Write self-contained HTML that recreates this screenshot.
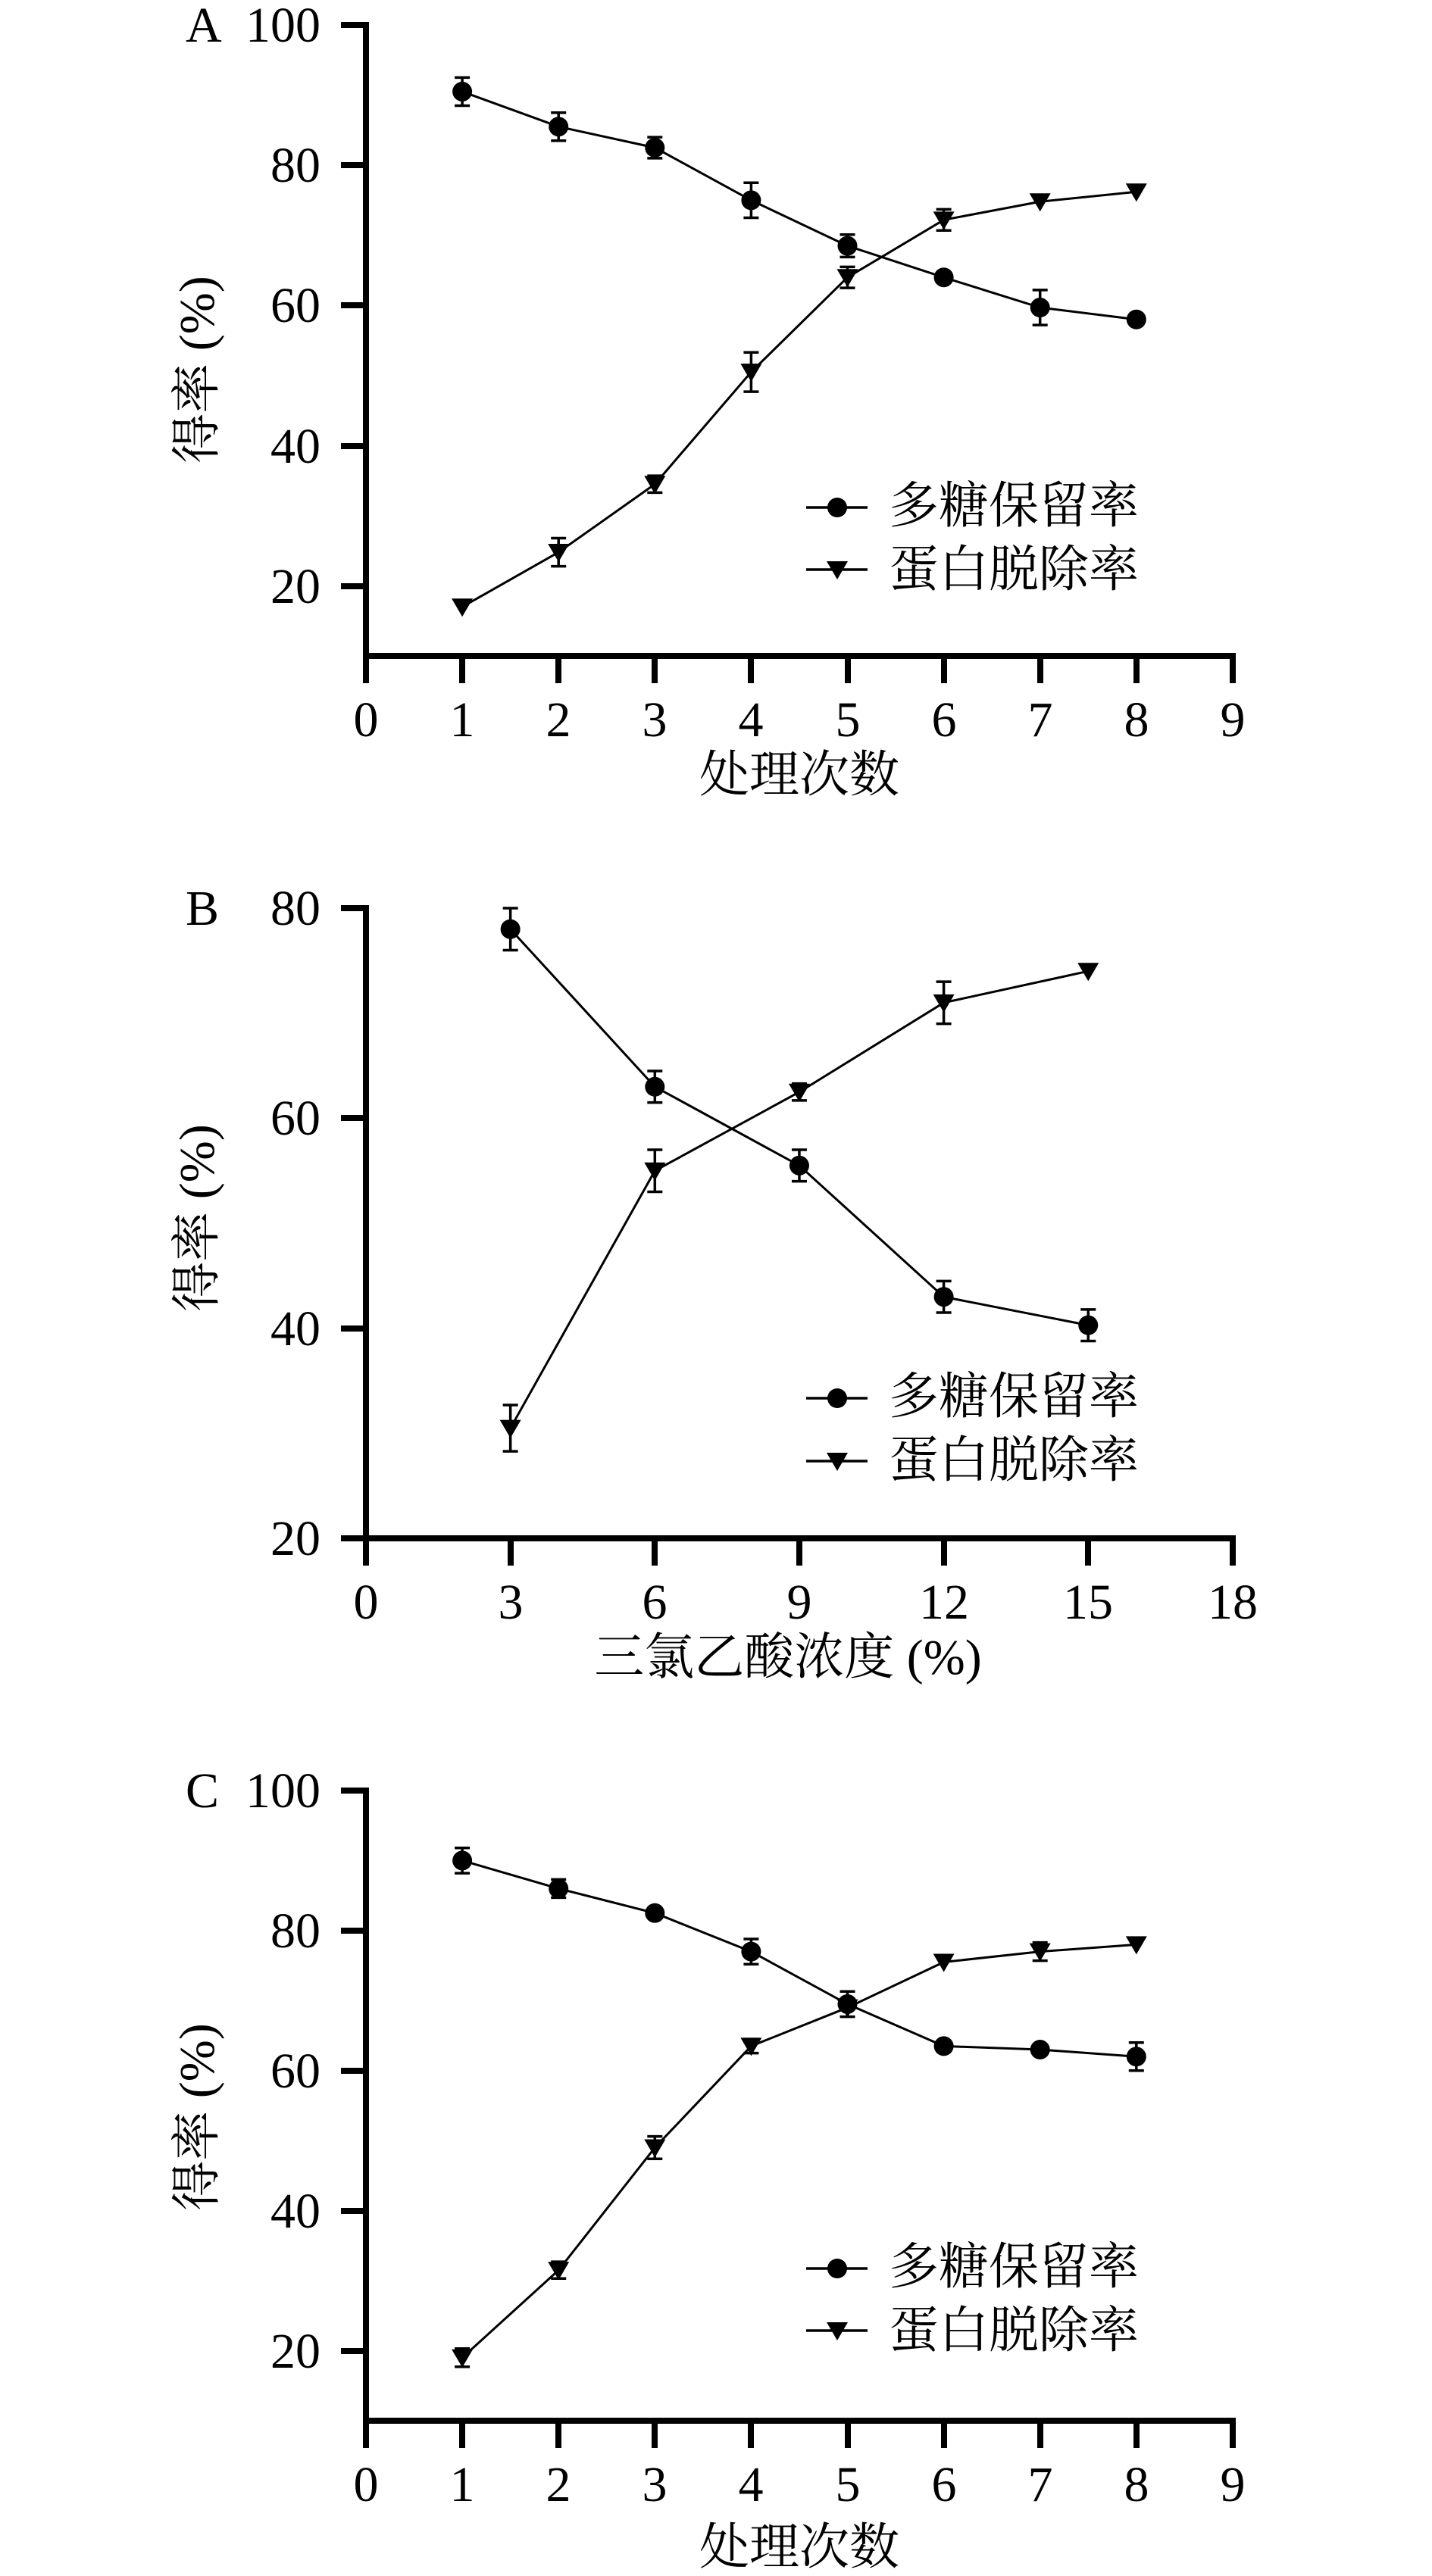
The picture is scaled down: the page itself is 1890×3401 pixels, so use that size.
<!DOCTYPE html>
<html><head><meta charset="utf-8"><style>
html,body{margin:0;padding:0;background:#fff}
svg{display:block}
.t{font-family:"Liberation Serif","Noto Serif CJK SC",serif;font-size:66px;fill:#000}
.c{font-family:"Liberation Serif","Noto Serif CJK SC",serif;font-size:64px;fill:#000}
</style></head><body>
<svg id="s" width="1890" height="3401" viewBox="0 0 1890 3401" xmlns="http://www.w3.org/2000/svg">
<g stroke="#000" stroke-width="8" fill="none">
<!-- A axes -->
<path d="M483 29V870M479 866H1631"/>
<path d="M450 33H483M450 218H483M450 403H483M450 589H483M450 774H483"/>
<path d="M483 866V902M610 866V902M737 866V902M864 866V902M991 866V902M1119 866V902M1246 866V902M1373 866V902M1500 866V902M1627 862V902"/>
<!-- B axes -->
<path d="M483 1195V2035M479 2031H1631"/>
<path d="M450 1199H483M450 1476H483M450 1754H483M450 2031H483"/>
<path d="M483 2031V2067M674 2031V2067M864 2031V2067M1055 2031V2067M1246 2031V2067M1436 2031V2067M1627 2027V2067"/>
<!-- C axes -->
<path d="M483 2360V3200M479 3196H1631"/>
<path d="M450 2364H483M450 2549H483M450 2734H483M450 2919H483M450 3104H483"/>
<path d="M483 3196V3232M610 3196V3232M737 3196V3232M864 3196V3232M991 3196V3232M1119 3196V3232M1246 3196V3232M1373 3196V3232M1500 3196V3232M1627 3192V3232"/>
</g>
<g id="data"></g>
<!-- A text -->
<text class="t" x="245" y="55">A</text>
<g class="t" text-anchor="end"><text x="423" y="55">100</text><text x="423" y="240">80</text><text x="423" y="425">60</text><text x="423" y="611">40</text><text x="423" y="796">20</text></g>
<g class="t" text-anchor="middle"><text x="483" y="972">0</text><text x="610" y="972">1</text><text x="737" y="972">2</text><text x="864" y="972">3</text><text x="991" y="972">4</text><text x="1119" y="972">5</text><text x="1246" y="972">6</text><text x="1373" y="972">7</text><text x="1500" y="972">8</text><text x="1627" y="972">9</text></g>
<text class="t" x="1055" y="1045" text-anchor="middle">处理次数</text>
<text class="t" transform="translate(282 488) rotate(-90)" text-anchor="middle">得率 (%)</text>
<text class="t" x="1173" y="690">多糖保留率</text>
<text class="t" x="1173" y="774">蛋白脱除率</text>
<!-- B text -->
<text class="t" x="245" y="1221">B</text>
<g class="t" text-anchor="end"><text x="423" y="1221">80</text><text x="423" y="1498">60</text><text x="423" y="1776">40</text><text x="423" y="2053">20</text></g>
<g class="t" text-anchor="middle"><text x="483" y="2137">0</text><text x="674" y="2137">3</text><text x="864" y="2137">6</text><text x="1055" y="2137">9</text><text x="1246" y="2137">12</text><text x="1436" y="2137">15</text><text x="1627" y="2137">18</text></g>
<text class="t" x="1040" y="2210" text-anchor="middle">三氯乙酸浓度 (%)</text>
<text class="t" transform="translate(282 1608) rotate(-90)" text-anchor="middle">得率 (%)</text>
<text class="t" x="1173" y="1866">多糖保留率</text>
<text class="t" x="1173" y="1950">蛋白脱除率</text>
<!-- C text -->
<text class="t" x="245" y="2386">C</text>
<g class="t" text-anchor="end"><text x="423" y="2386">100</text><text x="423" y="2571">80</text><text x="423" y="2756">60</text><text x="423" y="2941">40</text><text x="423" y="3126">20</text></g>
<g class="t" text-anchor="middle"><text x="483" y="3302">0</text><text x="610" y="3302">1</text><text x="737" y="3302">2</text><text x="864" y="3302">3</text><text x="991" y="3302">4</text><text x="1119" y="3302">5</text><text x="1246" y="3302">6</text><text x="1373" y="3302">7</text><text x="1500" y="3302">8</text><text x="1627" y="3302">9</text></g>
<text class="t" x="1055" y="3385" text-anchor="middle">处理次数</text>
<text class="t" transform="translate(282 2795) rotate(-90)" text-anchor="middle">得率 (%)</text>
<text class="t" x="1173" y="3015">多糖保留率</text>
<text class="t" x="1173" y="3099">蛋白脱除率</text>
</svg>
<script>
var NS="http://www.w3.org/2000/svg",g=document.getElementById("data");
function el(n,a){var e=document.createElementNS(NS,n);for(var k in a)e.setAttribute(k,a[k]);g.appendChild(e);}
function circ(x,y){el("circle",{cx:x,cy:y,r:13,fill:"#000"});}
function tri(x,y){el("path",{d:"M"+(x-14)+" "+(y-11)+"H"+(x+14)+"L"+x+" "+(y+13)+"Z",fill:"#000"});}
function series(pts,X,Y,m){
 var d="";pts.forEach(function(p,i){d+=(i?"L":"M")+X(p[0])+" "+Y(p[1]);});
 el("path",{d:d,stroke:"#000","stroke-width":3,fill:"none"});
 pts.forEach(function(p){var x=X(p[0]);if(p[2]){var a=Y(p[1]+p[2]),b=Y(p[1]-p[2]);
  el("path",{d:"M"+x+" "+a+"V"+b+"M"+(x-10)+" "+a+"H"+(x+10)+"M"+(x-10)+" "+b+"H"+(x+10),stroke:"#000","stroke-width":3.5,fill:"none"});}
  m(x,Y(p[1]));});
}
function legend(y1,y2){
 el("path",{d:"M1064 "+y1+"H1145M1064 "+y2+"H1145",stroke:"#000","stroke-width":3.5});
 circ(1105,y1);tri(1105,y2);
}
var XA=function(v){return 483+127.1*v},YA=function(v){return 33+(100-v)*9.256};
series([[1,90.5,2],[2,85.5,2],[3,82.5,1.5],[4,75,2.5],[5,68.5,1.6],[6,64,0],[7,59.7,2.5],[8,58,0]],XA,YA,circ);
series([[1,17,0],[2,24.8,2],[3,34.5,1.2],[4,50.5,2.8],[5,64,1.5],[6,72.2,1.5],[7,74.8,0],[8,76.2,0]],XA,YA,tri);
legend(670,752);
var XB=function(v){return 483+63.55*v},YB=function(v){return 1199+(80-v)*13.87};
series([[3,78,2],[6,63,1.5],[9,55.5,1.5],[12,43,1.5],[15,40.3,1.5]],XB,YB,circ);
series([[3,30.5,2.2],[6,55,2],[9,62.5,0.8],[12,71,2],[15,74,0]],XB,YB,tri);
legend(1846,1929);
var YC=function(v){return 2364+(100-v)*9.244};
series([[1,90,1.8],[2,86,1.3],[3,82.5,0],[4,77,1.8],[5,69.5,1.8],[6,63.5,0],[7,63,0],[8,62,2]],XA,YC,circ);
series([[1,19,1.3],[2,31.5,1.2],[3,49,1.6],[4,63.5,1],[5,69,0],[6,75.5,0],[7,77,1.3],[8,78,0]],XA,YC,tri);
legend(2995,3077);
</script>
</body></html>
